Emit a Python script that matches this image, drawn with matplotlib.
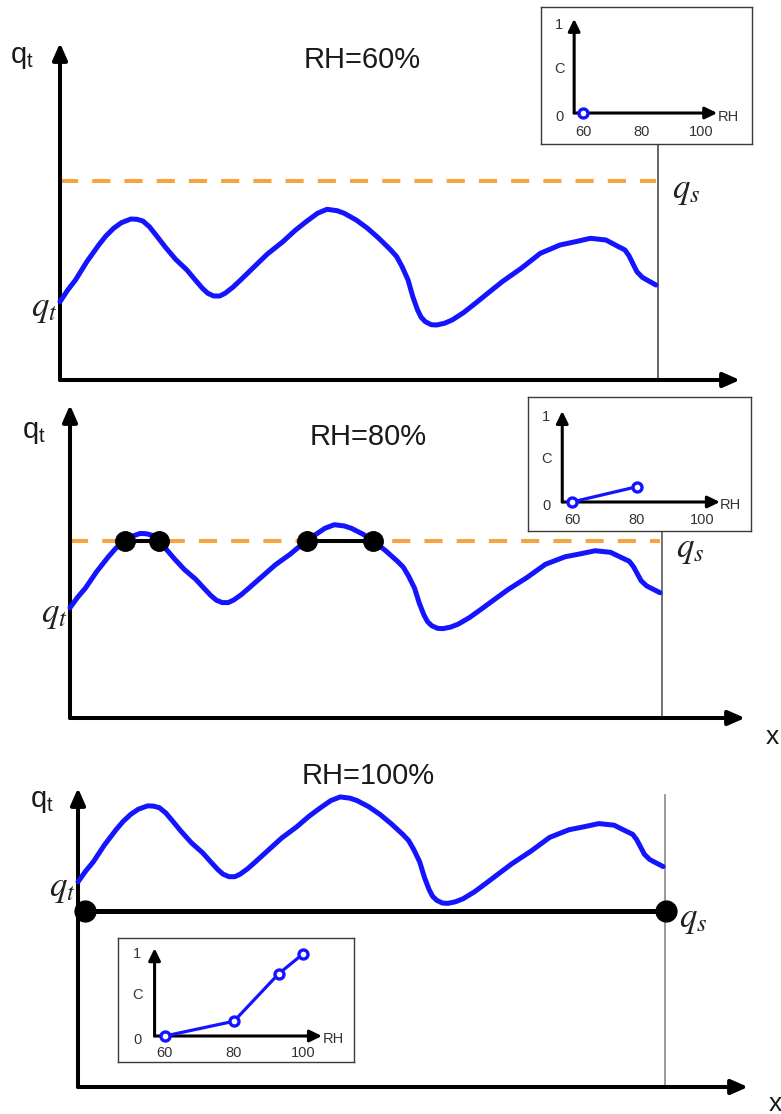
import numpy as np
import matplotlib
matplotlib.use("Agg")
import matplotlib.pyplot as plt

plt.rcParams["font.family"] = ["Liberation Sans", "DejaVu Sans"]
plt.rcParams["mathtext.fontset"] = "custom"
plt.rcParams["mathtext.sf"] = "Liberation Sans"
plt.rcParams["mathtext.rm"] = "Liberation Sans"

# Total water q_t along x (the same field in every panel)
x_pos = [0.00, 0.13, 0.26, 0.45, 0.65, 0.77, 0.90, 1.03, 1.19, 1.29, 1.39, 1.50,
         1.61, 1.77, 1.94, 2.13, 2.26, 2.39, 2.48, 2.58, 2.68, 2.77, 2.90, 3.03,
         3.26, 3.48, 3.74, 3.94, 4.13, 4.32, 4.48, 4.65, 4.77, 4.97, 5.16, 5.35,
         5.55, 5.65, 5.74, 5.84, 5.92, 6.00, 6.06, 6.13, 6.23, 6.32, 6.45, 6.58,
         6.77, 6.97, 7.19, 7.42, 7.74, 8.06, 8.39, 8.65, 8.90, 9.16, 9.35, 9.48,
         9.55, 9.61, 9.68, 9.77, 9.87, 10.00]
q_total = [7.83, 9.00, 10.00, 11.83, 13.50, 14.40, 15.17, 15.73, 16.10, 16.07, 15.90, 15.33,
           14.50, 13.27, 12.07, 11.00, 10.07, 9.17, 8.67, 8.40, 8.40, 8.67, 9.27, 10.00,
           11.33, 12.60, 13.83, 14.93, 15.83, 16.67, 17.07, 16.93, 16.67, 16.00, 15.17, 14.17,
           13.00, 12.33, 11.33, 10.00, 8.33, 7.00, 6.27, 5.83, 5.53, 5.50, 5.67, 6.00,
           6.73, 7.67, 8.73, 9.83, 11.17, 12.67, 13.50, 13.83, 14.17, 14.00, 13.40, 13.00,
           12.40, 11.67, 10.83, 10.27, 9.93, 9.50]

# Relative humidity of each panel and the saturation level q_s it implies
rh_titles = ["RH=60%", "RH=80%", "RH=100%"]
q_sat = [19.9, 15.3, 4.7]

# Cloud fraction C against RH (inset curves)
rh_points = [60, 80, 93, 100]
cloud_frac = [0.0, 0.18, 0.76, 1.0]
inset_ticks = [60, 80, 100]

W, H = 781, 1114
BLUE = "#1414ff"
ORANGE = "#f7a440"

fig = plt.figure(figsize=(W / 100, H / 100), dpi=100)


def px_rect(left, top, right, bottom):
    return [left / W, 1 - bottom / H, (right - left) / W, (bottom - top) / H]


def crossings(x, q, level):
    x = np.asarray(x, float)
    d = np.asarray(q, float) - level
    pts = []
    for i in range(len(x) - 1):
        if d[i] * d[i + 1] < 0:
            pts.append(x[i] - d[i] * (x[i + 1] - x[i]) / (d[i + 1] - d[i]))
    return pts


big_arrow = dict(arrowstyle="-|>,head_length=0.5,head_width=0.22", lw=2.9,
                 color="black", mutation_scale=20, shrinkA=0, shrinkB=0)
small_arrow = dict(arrowstyle="-|>,head_length=0.45,head_width=0.22", lw=2.2,
                   color="black", mutation_scale=16, shrinkA=0, shrinkB=0)

# panel layout: axes rectangle in pixels, data limits, top of the thin boundary line
panels = [
    dict(rect=(60, 43, 740, 380), xlim=(0, 11.41), ylim=(0, 33.7), vtop=1.0),
    dict(rect=(70, 405, 745, 718), xlim=(0, 11.44), ylim=(-4.45, 30.4), vtop=1.0),
    dict(rect=(78, 788, 748, 1087), xlim=(0, 11.45), ylim=(-14.46, 18.04), vtop=0.977),
]
title_px = [(362, 60), (368, 437), (368, 776)]
qt_top_px = [(10, 57), (22, 432), (30, 801)]
vline_colors = ["#4a4a4a", "#5a5a5a", "#8a8a8a"]

for i, p in enumerate(panels):
    ax = fig.add_axes(px_rect(*p["rect"]))
    ax.set_xlim(p["xlim"])
    ax.set_ylim(p["ylim"])
    ax.axis("off")

    ax.annotate("", xy=(1, 0), xytext=(0, 0), xycoords="axes fraction",
                arrowprops=big_arrow, annotation_clip=False)
    ax.annotate("", xy=(0, 1), xytext=(0, 0), xycoords="axes fraction",
                arrowprops=big_arrow, annotation_clip=False)

    x_end = x_pos[-1]
    ax.axvline(x_end + 0.03, ymin=0, ymax=p["vtop"], color=vline_colors[i],
               lw=1.2, zorder=1, clip_on=False)

    ax.plot(x_pos, q_total, color=BLUE, lw=3.6, solid_joinstyle="round",
            solid_capstyle="round", zorder=3, clip_on=False)

    qs = q_sat[i]
    if i < 2:
        ax.plot([x_pos[0], x_end], [qs, qs], color=ORANGE, lw=2.9,
                dashes=(4.5, 3.5), zorder=2, clip_on=False)
        cx = crossings(x_pos, q_total, qs)
        for a, b in zip(cx[0::2], cx[1::2]):
            ax.plot([a, b], [qs, qs], color="black", lw=2.9, zorder=4,
                    marker="o", ms=14, mec="black", mfc="black", clip_on=False)
    else:
        ax.plot([x_pos[0] + 0.12, x_end + 0.05], [qs, qs], color="black", lw=3.6,
                zorder=4, marker="o", ms=15, clip_on=False)

    ax.annotate(r"$q_s$", xy=(x_end, qs), xytext=(11.5, -6.5),
                textcoords="offset points", ha="left", va="center",
                fontsize=25, math_fontfamily="stix", color="#222222")
    ax.annotate(r"$q_t$", xy=(x_pos[0], q_total[0]), xytext=(-1.5, -5),
                textcoords="offset points", ha="right", va="center",
                fontsize=25, math_fontfamily="stix", color="#222222")

    tx, ty = title_px[i]
    fig.text(tx / W, 1 - ty / H, rh_titles[i], ha="center", va="center",
             fontsize=21, color="#1a1a1a")
    qx, qy = qt_top_px[i]
    fig.text(qx / W, 1 - qy / H, r"$\mathsf{q}_\mathsf{t}$", ha="left", va="center",
             fontsize=21, color="#1a1a1a")

for (lx, ly) in [(772, 737), (775, 1104)]:
    fig.text(lx / W, 1 - ly / H, "x", ha="center", va="center", fontsize=19,
             color="#1a1a1a")

# insets: box in pixels, data limits, number of points shown
insets = [
    dict(box=(541, 7, 752, 144), xlim=(45.76, 117.29), ylim=(-0.352, 1.205), n=1),
    dict(box=(528, 397, 751, 531), xlim=(46.46, 115.08), ylim=(-0.341, 1.235), n=2),
    dict(box=(118, 938, 354, 1062), xlim=(46.4, 114.8), ylim=(-0.317, 1.195), n=4),
]

for ins in insets:
    ax = fig.add_axes(px_rect(*ins["box"]))
    ax.set_facecolor("white")
    ax.set_xlim(ins["xlim"])
    ax.set_ylim(ins["ylim"])
    ax.set_xticks([])
    ax.set_yticks([])
    for s in ax.spines.values():
        s.set_color("#3a3a3a")
        s.set_linewidth(1.0)

    ax.annotate("", xy=(105.5, 0), xytext=(57, 0), arrowprops=small_arrow,
                annotation_clip=False)
    ax.annotate("", xy=(57, 1.07), xytext=(57, 0), arrowprops=small_arrow,
                annotation_clip=False)

    n = ins["n"]
    ax.plot(rh_points[:n], cloud_frac[:n], "-o", color=BLUE, lw=2.3, ms=6.5,
            mfc="white", mec=BLUE, mew=2.4, zorder=5, clip_on=False)

    for t in inset_ticks:
        ax.text(t, -0.21, str(t), ha="center", va="center", fontsize=10.5,
                color="#333333")
    ax.text(52, 1.0, "1", ha="center", va="center", fontsize=10.5, color="#333333")
    ax.text(52, 0.5, "C", ha="center", va="center", fontsize=10.5, color="#333333")
    ax.text(52, -0.05, "0", ha="center", va="center", fontsize=10.5, color="#333333")
    ax.text(105.6, -0.04, "RH", ha="left", va="center", fontsize=10.5, color="#333333")

fig.savefig("out.png", dpi=100)
